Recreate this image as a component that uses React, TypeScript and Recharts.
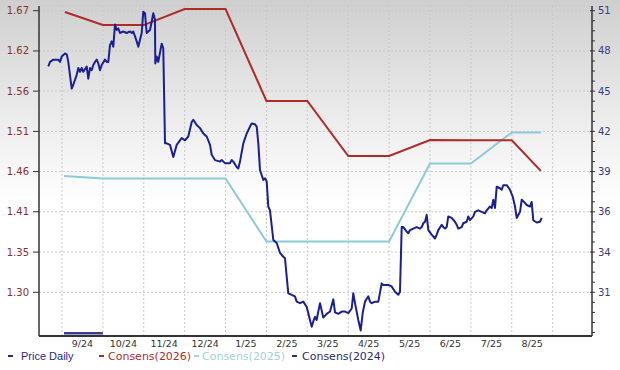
import React from 'react'
import { LineChart, Line, XAxis, YAxis, CartesianGrid, ReferenceLine } from 'recharts'

// x positions are in months: 0 = start of 9/24, 12 = start of 9/25
const monthLabels = ['9/24', '10/24', '11/24', '12/24', '1/25', '2/25', '3/25', '4/25', '5/25', '6/25', '7/25', '8/25']
const monthLabelPos = [0.5, 1.5, 2.5, 3.5, 4.5, 5.5, 6.5, 7.5, 8.5, 9.5, 10.5, 11.5]
const monthGrid = [0, 1, 2, 3, 4, 5, 6, 7, 8, 9, 10, 11, 12]

const leftTicks = [1.2993, 1.3521, 1.4051, 1.4579, 1.5107, 1.5636, 1.6164, 1.6693]
const leftTickLabels = ['1.30', '1.35', '1.41', '1.46', '1.51', '1.56', '1.62', '1.67']
const rightTicks = [31, 33.857, 36.714, 39.571, 42.429, 45.286, 48.143, 51]
const rightTickLabels = ['31', '34', '36', '39', '42', '45', '48', '51']

const priceDaily: [number, number][] = [
  [-0.335, 1.596], [-0.293, 1.602], [-0.213, 1.605], [-0.09, 1.605], [-0.049, 1.602], [-0.007, 1.609],
  [0.073, 1.613], [0.115, 1.612], [0.154, 1.602], [0.237, 1.567], [0.276, 1.572], [0.36, 1.585],
  [0.399, 1.594], [0.44, 1.589], [0.482, 1.594], [0.521, 1.589], [0.604, 1.596], [0.643, 1.58],
  [0.685, 1.594], [0.726, 1.591], [0.765, 1.598], [0.807, 1.602], [0.849, 1.605], [0.888, 1.6],
  [0.929, 1.591], [0.971, 1.598], [1.052, 1.605], [1.093, 1.602], [1.132, 1.602], [1.174, 1.624],
  [1.215, 1.629], [1.255, 1.622], [1.296, 1.651], [1.338, 1.644], [1.377, 1.646], [1.418, 1.64],
  [1.499, 1.642], [1.582, 1.64], [1.663, 1.642], [1.705, 1.64], [1.744, 1.642], [1.827, 1.629],
  [1.866, 1.622], [1.908, 1.631], [1.949, 1.64], [1.988, 1.668], [2.03, 1.666], [2.071, 1.64],
  [2.152, 1.644], [2.194, 1.655], [2.233, 1.666], [2.274, 1.657], [2.282, 1.6], [2.316, 1.609],
  [2.355, 1.602], [2.438, 1.626], [2.477, 1.62], [2.519, 1.495], [2.56, 1.495], [2.641, 1.493],
  [2.722, 1.477], [2.805, 1.493], [2.886, 1.499], [2.927, 1.502], [3.008, 1.499], [3.089, 1.504],
  [3.172, 1.523], [3.211, 1.526], [3.294, 1.519], [3.375, 1.515], [3.456, 1.508], [3.539, 1.504],
  [3.62, 1.493], [3.661, 1.48], [3.742, 1.473], [3.864, 1.471], [3.906, 1.473], [3.986, 1.469],
  [4.109, 1.469], [4.15, 1.473], [4.189, 1.471], [4.272, 1.464], [4.312, 1.462], [4.353, 1.471],
  [4.434, 1.495], [4.517, 1.508], [4.598, 1.517], [4.639, 1.521], [4.72, 1.52], [4.762, 1.517],
  [4.801, 1.495], [4.842, 1.46], [4.923, 1.447], [4.965, 1.449], [5.006, 1.445], [5.045, 1.412],
  [5.087, 1.407], [5.168, 1.368], [5.251, 1.364], [5.332, 1.351], [5.412, 1.346], [5.454, 1.344],
  [5.495, 1.32], [5.535, 1.298], [5.618, 1.296], [5.698, 1.294], [5.74, 1.287], [5.821, 1.285],
  [5.901, 1.287], [5.985, 1.28], [6.065, 1.263], [6.107, 1.254], [6.146, 1.261], [6.188, 1.267],
  [6.229, 1.263], [6.268, 1.274], [6.31, 1.285], [6.391, 1.266], [6.474, 1.271], [6.555, 1.274],
  [6.635, 1.29], [6.677, 1.273], [6.758, 1.271], [6.841, 1.274], [6.922, 1.274], [7.002, 1.272],
  [7.085, 1.278], [7.124, 1.298], [7.166, 1.285], [7.246, 1.263], [7.305, 1.249], [7.354, 1.272],
  [7.41, 1.287], [7.491, 1.294], [7.533, 1.287], [7.574, 1.285], [7.655, 1.287], [7.736, 1.287],
  [7.819, 1.311], [7.858, 1.309], [7.98, 1.309], [8.063, 1.307], [8.144, 1.3], [8.225, 1.296],
  [8.266, 1.3], [8.308, 1.385], [8.347, 1.385], [8.43, 1.379], [8.469, 1.377], [8.511, 1.381],
  [8.592, 1.383], [8.675, 1.385], [8.755, 1.383], [8.797, 1.385], [8.836, 1.39], [8.878, 1.392],
  [8.919, 1.401], [8.959, 1.381], [9.041, 1.375], [9.122, 1.37], [9.164, 1.375], [9.203, 1.381],
  [9.286, 1.388], [9.325, 1.385], [9.367, 1.383], [9.408, 1.385], [9.447, 1.399], [9.53, 1.397],
  [9.611, 1.392], [9.653, 1.388], [9.692, 1.383], [9.775, 1.385], [9.814, 1.39], [9.897, 1.392],
  [9.937, 1.399], [9.978, 1.394], [10.059, 1.399], [10.1, 1.405], [10.181, 1.407], [10.264, 1.405],
  [10.345, 1.403], [10.386, 1.407], [10.467, 1.412], [10.509, 1.41], [10.548, 1.421], [10.59, 1.41],
  [10.631, 1.438], [10.712, 1.436], [10.753, 1.434], [10.793, 1.44], [10.876, 1.44], [10.957, 1.434],
  [11.023, 1.425], [11.079, 1.412], [11.121, 1.397], [11.16, 1.401], [11.202, 1.405], [11.243, 1.421],
  [11.299, 1.418], [11.365, 1.414], [11.446, 1.412], [11.487, 1.418], [11.526, 1.394], [11.609, 1.391],
  [11.69, 1.392], [11.731, 1.397],
]

const consens2026: [number, number][] = [
  [0.07, 50.91], [1, 49.98], [2, 49.98], [3, 51.12], [4, 51.12], [5, 44.59], [6, 44.59],
  [7, 40.68], [8, 40.68], [9, 41.82], [10, 41.8], [11, 41.8], [11.71, 39.62],
]
const consens2025: [number, number][] = [
  [0.05, 39.26], [1, 39.08], [2, 39.08], [3, 39.08], [4, 39.08], [5, 34.61], [6, 34.61],
  [7, 34.61], [8, 34.61], [9, 40.15], [10, 40.15], [11, 42.35], [11.71, 42.35],
]
const consens2024: [number, number][] = [[0.05, 28.09], [1, 28.09]]

const toRows = (pts: [number, number][]) => pts.map(([x, v]) => ({ x, v }))

// right axis carries minor ticks at quarter steps
const rightStep = (rightTicks[1] - rightTicks[0]) / 4
const rightMinor: number[] = []
for (let k = 4; k >= 1; k--) rightMinor.push(rightTicks[0] - k * rightStep)
rightTicks.forEach((t, i) => {
  if (i < rightTicks.length - 1) for (let k = 0; k < 4; k++) rightMinor.push(t + k * rightStep)
  else rightMinor.push(t)
})

const FONT = '"DejaVu Sans", Verdana, sans-serif'
const GRID = '#c9c9c9'

function RightTick(props: any) {
  const { x, y, payload } = props
  const idx = rightTicks.findIndex((t) => Math.abs(t - payload.value) < 0.01)
  const major = idx >= 0
  return (
    <g>
      <line x1={major ? x - 2 : x} x2={x + 3} y1={y} y2={y} stroke="#333" strokeWidth={1} />
      {major && (
        <text x={x + 6} y={y} dy="0.35em" fill="#3a3a86" fontSize={10} fontFamily={FONT}>
          {rightTickLabels[idx]}
        </text>
      )}
    </g>
  )
}

const legendItems = [
  { name: 'Price Daily', color: '#1f2a8c', dash: 8, text: 21, font: '"Liberation Sans", Arial, sans-serif' },
  { name: 'Consens(2026)', color: '#b02a2a', dash: 99, text: 108, font: FONT },
  { name: 'Consens(2025)', color: '#9fd2dc', dash: 194, text: 202, font: FONT },
  { name: 'Consens(2024)', color: '#2c2c70', dash: 292, text: 302, font: FONT },
]

export default function App() {
  return (
    <div
      style={{
        position: 'absolute', left: 0, top: 0, width: 620, height: 370,
        background: 'linear-gradient(180deg, #cfcfcf 0%, #e6e6e6 25%, #ffffff 55%, #ffffff 100%)',
        fontFamily: FONT,
      }}
    >
      <LineChart width={620} height={370} margin={{ top: 6, right: 0, bottom: 0, left: 0 }}>
        <CartesianGrid yAxisId="left" vertical={false} stroke={GRID} strokeDasharray="2 2" />
        {monthGrid.map((g) => (
          <ReferenceLine key={g} x={g} yAxisId="left" stroke={GRID} strokeDasharray="2 2" />
        ))}
        <XAxis
          type="number"
          dataKey="x"
          domain={[-0.5625, 12.962]}
          allowDataOverflow
          ticks={monthLabelPos}
          interval={0}
          tickFormatter={(_v: number, i: number) => monthLabels[i]}
          tickLine={false}
          tickSize={2}
          axisLine={{ stroke: '#333', strokeWidth: 2 }}
          height={34}
          tick={{ fill: '#333', fontSize: 9.5, fontFamily: FONT }}
        />
        <YAxis
          yAxisId="left"
          type="number"
          domain={[1.24187, 1.67546]}
          allowDataOverflow
          ticks={leftTicks}
          interval={0}
          tickFormatter={(_v: number, i: number) => leftTickLabels[i]}
          width={39}
          tickSize={6}
          tickMargin={4}
          tickLine={{ stroke: '#333' }}
          axisLine={{ stroke: '#333', strokeWidth: 1.5 }}
          tick={{ fill: '#8b2e2e', fontSize: 10, fontFamily: FONT }}
        />
        <YAxis
          yAxisId="right"
          orientation="right"
          type="number"
          domain={[27.896, 51.334]}
          allowDataOverflow
          ticks={rightMinor}
          interval={0}
          width={28}
          tickSize={0}
          tickMargin={0}
          tickLine={false}
          axisLine={{ stroke: '#333', strokeWidth: 1.5 }}
          tick={<RightTick />}
        />
        <Line
          yAxisId="right"
          data={toRows(consens2024)}
          dataKey="v"
          stroke="#3b3b8f"
          strokeWidth={2.5}
          dot={false}
          isAnimationActive={false}
        />
        <Line
          yAxisId="right"
          data={toRows(consens2025)}
          dataKey="v"
          stroke="#8ccbd8"
          strokeWidth={2}
          dot={false}
          isAnimationActive={false}
        />
        <Line
          yAxisId="right"
          data={toRows(consens2026)}
          dataKey="v"
          stroke="#b02a2a"
          strokeWidth={2}
          dot={false}
          isAnimationActive={false}
        />
        <Line
          yAxisId="left"
          data={toRows(priceDaily)}
          dataKey="v"
          stroke="#1a1f94"
          strokeWidth={2}
          strokeLinejoin="round"
          dot={false}
          isAnimationActive={false}
        />
      </LineChart>
      {legendItems.map((it) => (
        <React.Fragment key={it.name}>
          <span
            style={{
              position: 'absolute', left: it.dash, top: 355, width: 5, height: 2, background: it.color,
            }}
          />
          <span
            style={{
              position: 'absolute', left: it.text, top: 351, fontSize: 11, lineHeight: '11px',
              color: it.color, whiteSpace: 'nowrap', fontFamily: it.font,
            }}
          >
            {it.name}
          </span>
        </React.Fragment>
      ))}
    </div>
  )
}
